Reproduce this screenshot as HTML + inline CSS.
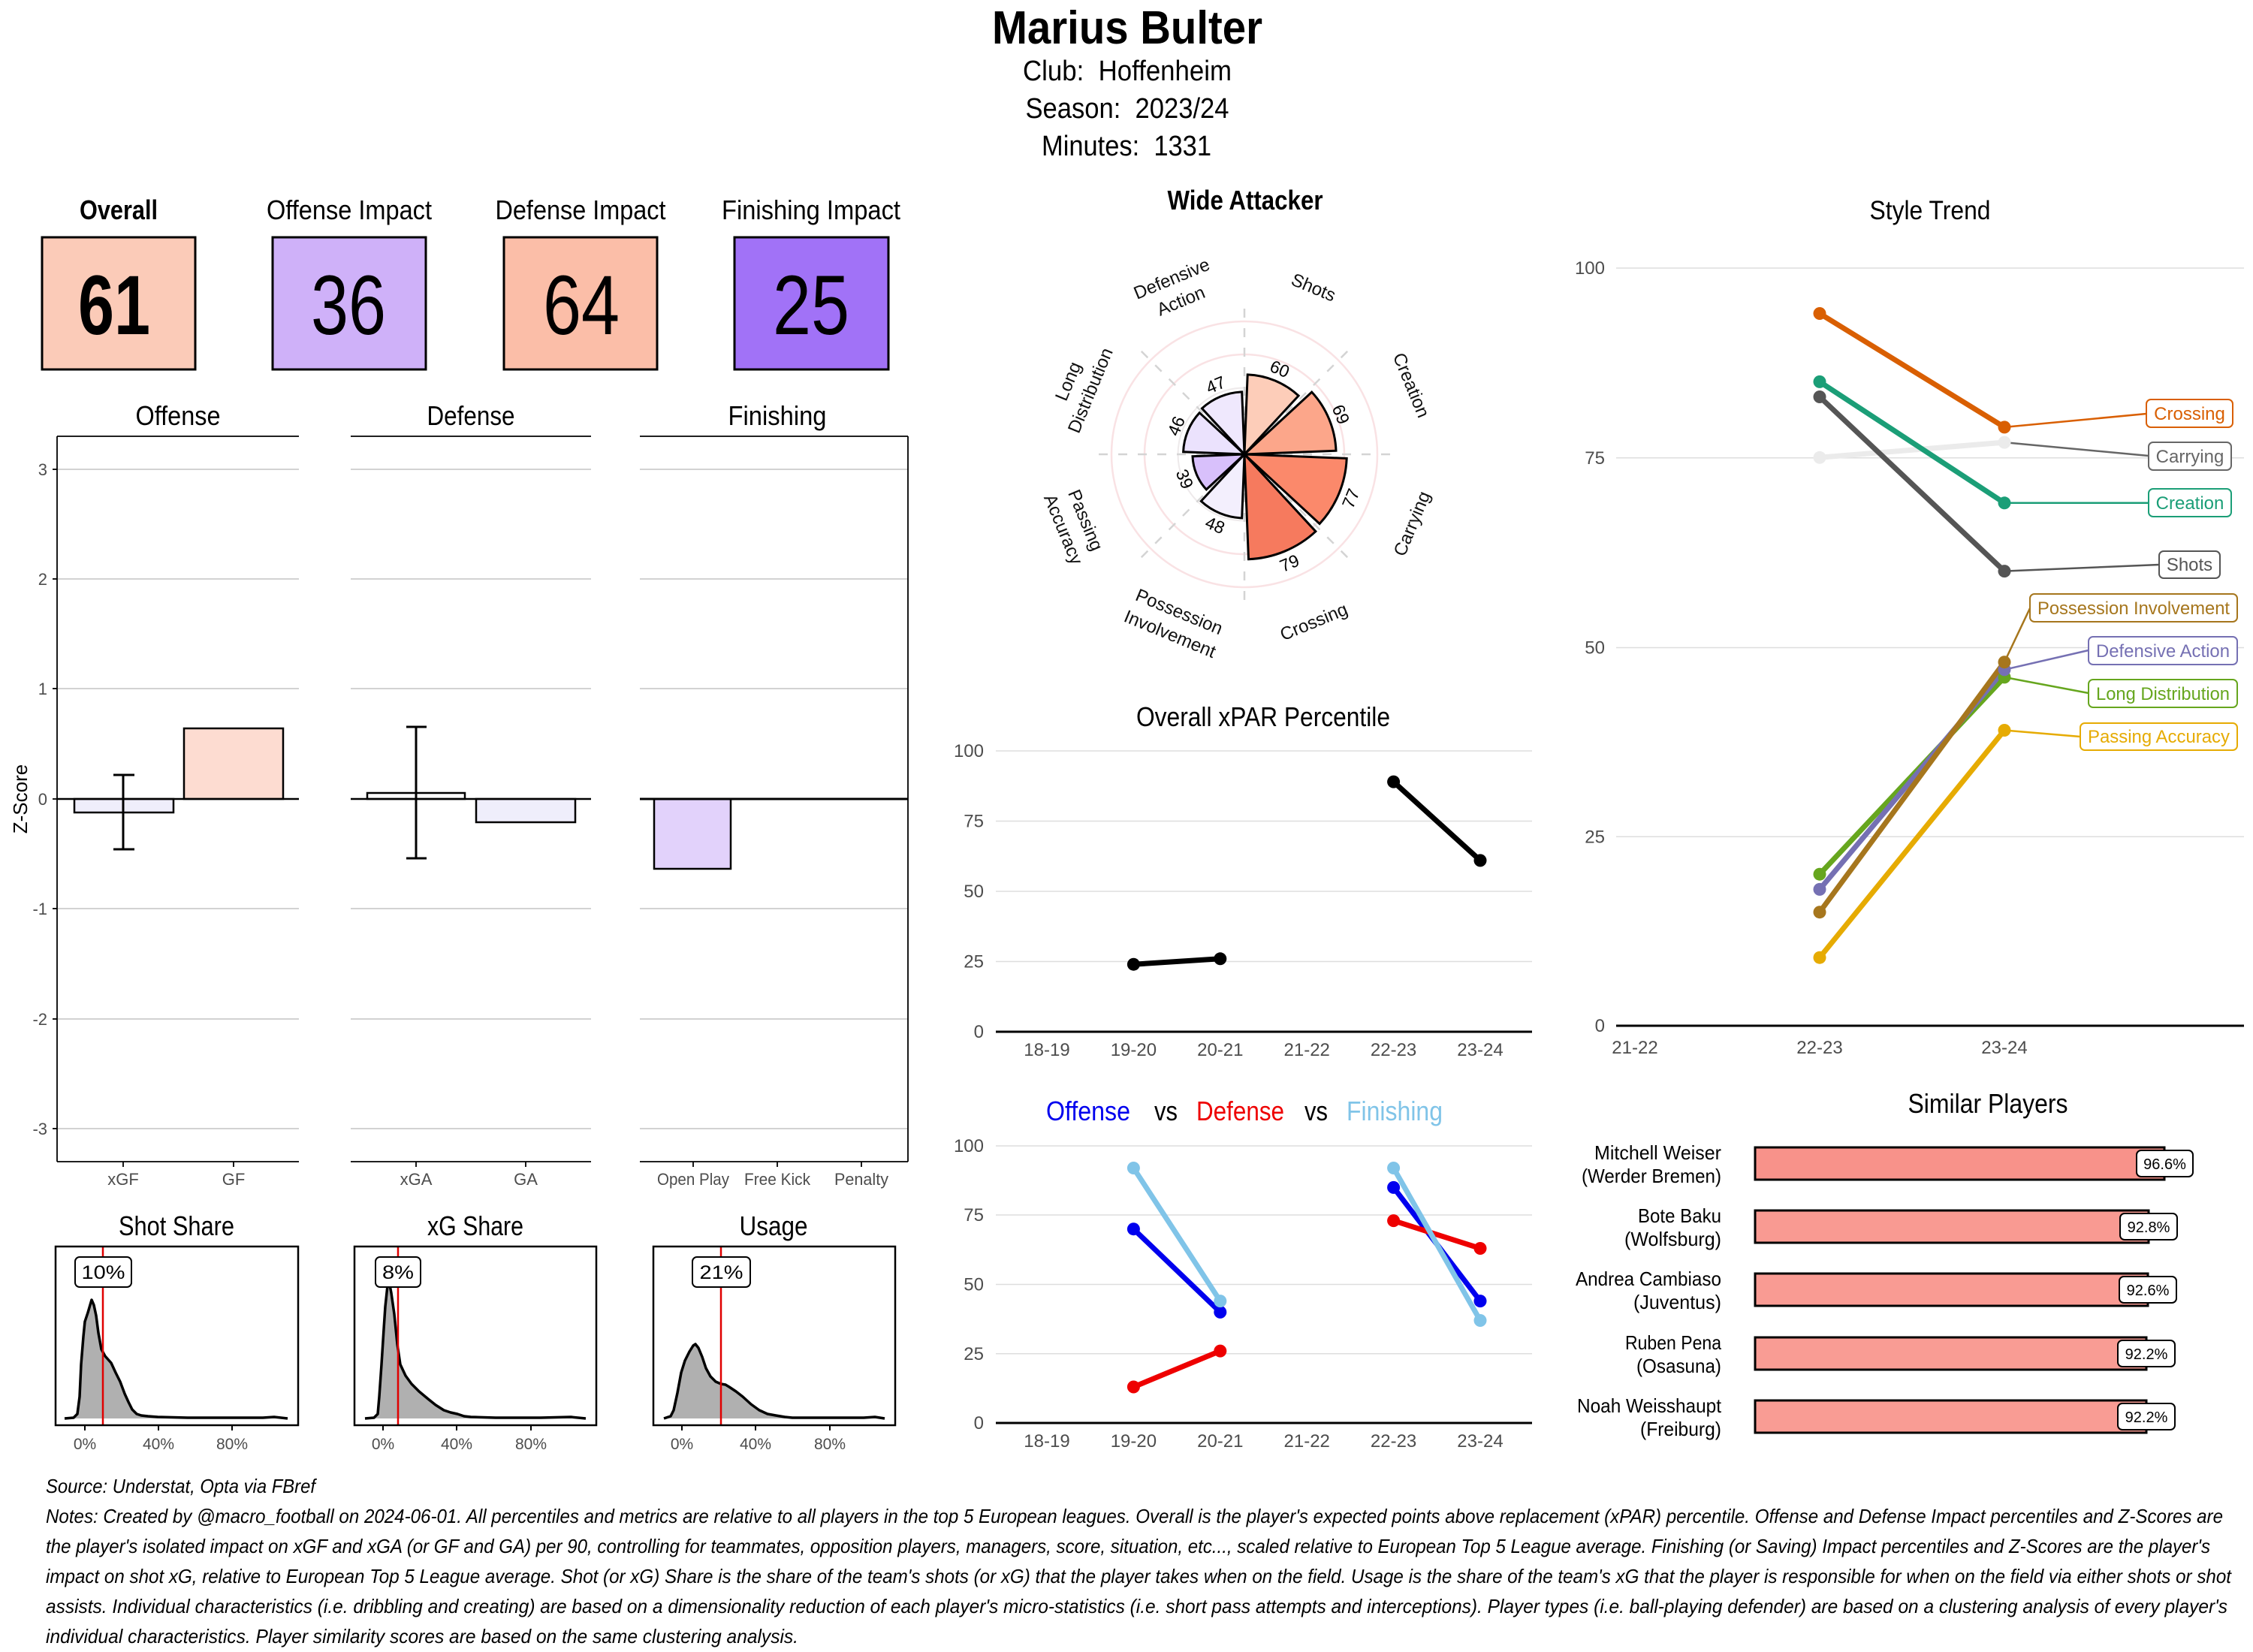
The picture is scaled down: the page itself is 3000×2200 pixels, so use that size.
<!DOCTYPE html>
<html>
<head>
<meta charset="utf-8">
<style>
html,body{margin:0;padding:0;background:#fff;}
svg{display:block;}
text{font-family:"Liberation Sans",Arial,sans-serif;}
</style>
</head>
<body>
<svg xmlns="http://www.w3.org/2000/svg" width="3000" height="2200" viewBox="0 0 3000 2200">
<rect x="0" y="0" width="3000" height="2200" fill="#fff"/>

<!-- ===== HEADER ===== -->
<g fill="#000" text-anchor="middle">
  <text x="1501" y="58" font-size="62" font-weight="bold" textLength="360" lengthAdjust="spacingAndGlyphs">Marius Bulter</text>
  <text x="1501" y="107" font-size="38" textLength="278" lengthAdjust="spacingAndGlyphs" xml:space="preserve">Club:  Hoffenheim</text>
  <text x="1501" y="157" font-size="38" textLength="271" lengthAdjust="spacingAndGlyphs" xml:space="preserve">Season:  2023/24</text>
  <text x="1500" y="207" font-size="38" textLength="226" lengthAdjust="spacingAndGlyphs" xml:space="preserve">Minutes:  1331</text>
</g>

<!-- ===== SCORE BOXES ===== -->
<g text-anchor="middle" fill="#000">
  <text x="158" y="292" font-size="36" font-weight="bold" textLength="104" lengthAdjust="spacingAndGlyphs">Overall</text>
  <text x="465" y="292" font-size="36" textLength="220" lengthAdjust="spacingAndGlyphs">Offense Impact</text>
  <text x="773" y="292" font-size="36" textLength="227" lengthAdjust="spacingAndGlyphs">Defense Impact</text>
  <text x="1080" y="292" font-size="36" textLength="238" lengthAdjust="spacingAndGlyphs">Finishing Impact</text>
</g>
<g stroke="#000" stroke-width="3">
  <rect x="56" y="316" width="204" height="176" fill="#fbcbb8"/>
  <rect x="363" y="316" width="204" height="176" fill="#cfb1f9"/>
  <rect x="671" y="316" width="204" height="176" fill="#fbbea8"/>
  <rect x="978" y="316" width="205" height="176" fill="#a172f7"/>
</g>
<g text-anchor="middle" fill="#000" font-size="112">
  <text x="152" y="445" font-weight="bold" textLength="96" lengthAdjust="spacingAndGlyphs">61</text>
  <text x="464" y="445" textLength="100" lengthAdjust="spacingAndGlyphs">36</text>
  <text x="774" y="445" textLength="102" lengthAdjust="spacingAndGlyphs">64</text>
  <text x="1080" y="445" textLength="102" lengthAdjust="spacingAndGlyphs">25</text>
</g>

<!-- ===== Z-SCORE BAR PANELS ===== -->
<g text-anchor="middle" fill="#000" font-size="36">
  <text x="237" y="566" textLength="113" lengthAdjust="spacingAndGlyphs">Offense</text>
  <text x="627" y="566" textLength="117" lengthAdjust="spacingAndGlyphs">Defense</text>
  <text x="1035" y="566" textLength="131" lengthAdjust="spacingAndGlyphs">Finishing</text>
</g>
<g stroke="#c4c4c4" stroke-width="1.5">
  <line x1="76" y1="625" x2="398" y2="625"/><line x1="76" y1="771" x2="398" y2="771"/><line x1="76" y1="917" x2="398" y2="917"/>
  <line x1="76" y1="1210" x2="398" y2="1210"/><line x1="76" y1="1357" x2="398" y2="1357"/><line x1="76" y1="1503" x2="398" y2="1503"/>
  <line x1="467" y1="625" x2="787" y2="625"/><line x1="467" y1="771" x2="787" y2="771"/><line x1="467" y1="917" x2="787" y2="917"/>
  <line x1="467" y1="1210" x2="787" y2="1210"/><line x1="467" y1="1357" x2="787" y2="1357"/><line x1="467" y1="1503" x2="787" y2="1503"/>
  <line x1="852" y1="625" x2="1209" y2="625"/><line x1="852" y1="771" x2="1209" y2="771"/><line x1="852" y1="917" x2="1209" y2="917"/>
  <line x1="852" y1="1210" x2="1209" y2="1210"/><line x1="852" y1="1357" x2="1209" y2="1357"/><line x1="852" y1="1503" x2="1209" y2="1503"/>
</g>
<g stroke="#000" stroke-width="2.5">
  <rect x="99" y="1064" width="132" height="18" fill="#efeefb"/>
  <rect x="245" y="970" width="132" height="94" fill="#fddcd1"/>
  <rect x="489" y="1056" width="130" height="8" fill="#ffffff"/>
  <rect x="634" y="1064" width="132" height="31" fill="#efeefb"/>
  <rect x="871" y="1064" width="102" height="93" fill="#e2d2fb"/>
</g>
<g stroke="#000" stroke-width="3" fill="none">
  <line x1="164" y1="1032" x2="164" y2="1131"/><line x1="151" y1="1032" x2="179" y2="1032"/><line x1="151" y1="1131" x2="179" y2="1131"/>
  <line x1="554" y1="968" x2="554" y2="1143"/><line x1="541" y1="968" x2="568" y2="968"/><line x1="541" y1="1143" x2="568" y2="1143"/>
</g>
<g stroke="#000" stroke-width="2.5">
  <line x1="76" y1="1064" x2="398" y2="1064"/>
  <line x1="467" y1="1064" x2="787" y2="1064"/>
  <line x1="852" y1="1064" x2="1209" y2="1064" stroke-width="3"/>
</g>
<g stroke="#000" stroke-width="1.8" fill="none">
  <line x1="76" y1="581" x2="398" y2="581"/><line x1="467" y1="581" x2="787" y2="581"/><line x1="852" y1="581" x2="1209" y2="581"/>
  <line x1="76" y1="1547" x2="398" y2="1547"/><line x1="467" y1="1547" x2="787" y2="1547"/><line x1="852" y1="1547" x2="1209" y2="1547"/>
  <line x1="76" y1="581" x2="76" y2="1547"/>
  <line x1="1209" y1="581" x2="1209" y2="1547"/>
  <line x1="70" y1="625" x2="76" y2="625"/><line x1="70" y1="771" x2="76" y2="771"/><line x1="70" y1="917" x2="76" y2="917"/>
  <line x1="70" y1="1064" x2="76" y2="1064"/><line x1="70" y1="1210" x2="76" y2="1210"/><line x1="70" y1="1357" x2="76" y2="1357"/><line x1="70" y1="1503" x2="76" y2="1503"/>
  <line x1="164" y1="1547" x2="164" y2="1554"/><line x1="311" y1="1547" x2="311" y2="1554"/>
  <line x1="554" y1="1547" x2="554" y2="1554"/><line x1="700" y1="1547" x2="700" y2="1554"/>
  <line x1="923" y1="1547" x2="923" y2="1554"/><line x1="1035" y1="1547" x2="1035" y2="1554"/><line x1="1147" y1="1547" x2="1147" y2="1554"/>
</g>
<g fill="#4d4d4d" font-size="22" text-anchor="end">
  <text x="63" y="633">3</text><text x="63" y="779">2</text><text x="63" y="925">1</text><text x="63" y="1072">0</text>
  <text x="63" y="1218">-1</text><text x="63" y="1365">-2</text><text x="63" y="1511">-3</text>
</g>
<text x="0" y="0" transform="translate(36,1064) rotate(-90)" text-anchor="middle" font-size="26" fill="#000">Z-Score</text>
<g fill="#4d4d4d" font-size="22" text-anchor="middle">
  <text x="164" y="1578">xGF</text><text x="311" y="1578">GF</text>
  <text x="554" y="1578">xGA</text><text x="700" y="1578">GA</text>
  <text x="923" y="1578" textLength="96" lengthAdjust="spacingAndGlyphs">Open Play</text>
  <text x="1035" y="1578" textLength="88" lengthAdjust="spacingAndGlyphs">Free Kick</text>
  <text x="1147" y="1578" textLength="72" lengthAdjust="spacingAndGlyphs">Penalty</text>
</g>

<!-- ===== DENSITY PANELS ===== -->
<g text-anchor="middle" fill="#000" font-size="36">
  <text x="235" y="1645" textLength="154" lengthAdjust="spacingAndGlyphs">Shot Share</text>
  <text x="633" y="1645" textLength="128" lengthAdjust="spacingAndGlyphs">xG Share</text>
  <text x="1030" y="1645" textLength="91" lengthAdjust="spacingAndGlyphs">Usage</text>
</g>
<path d="M86,1889 L98,1888 L103,1883 L106,1860 L108,1817 L111,1780 L113,1760 L117,1748 L122,1731 L125,1738 L128,1752 L131,1775 L135,1797 L140,1806 L148,1815 L154,1828 L160,1840 L166,1856 L171,1867 L176,1877 L182,1883 L188,1885 L197,1886 L210,1887 L250,1888 L300,1888 L350,1888 L365,1887 L383,1889 Z" fill="#b0b0b0" stroke="none"/>
<path d="M86,1889 L98,1888 L103,1883 L106,1860 L108,1817 L111,1780 L113,1760 L117,1748 L122,1731 L125,1738 L128,1752 L131,1775 L135,1797 L140,1806 L148,1815 L154,1828 L160,1840 L166,1856 L171,1867 L176,1877 L182,1883 L188,1885 L197,1886 L210,1887 L250,1888 L300,1888 L350,1888 L365,1887 L383,1889" fill="none" stroke="#000" stroke-width="3.5" stroke-linejoin="round"/>
<line x1="137" y1="1660" x2="137" y2="1898" stroke="#e00000" stroke-width="2.5"/>
<path d="M486,1889 L498,1888 L503,1883 L505,1860 L508,1817 L511,1770 L513,1740 L516,1712 L518,1706 L521,1722 L525,1750 L529,1790 L533,1817 L540,1832 L548,1843 L558,1853 L570,1863 L580,1871 L591,1878 L600,1881 L609,1883 L618,1886 L627,1887 L660,1888 L720,1888 L760,1887 L780,1889 Z" fill="#b0b0b0" stroke="none"/>
<path d="M486,1889 L498,1888 L503,1883 L505,1860 L508,1817 L511,1770 L513,1740 L516,1712 L518,1706 L521,1722 L525,1750 L529,1790 L533,1817 L540,1832 L548,1843 L558,1853 L570,1863 L580,1871 L591,1878 L600,1881 L609,1883 L618,1886 L627,1887 L660,1888 L720,1888 L760,1887 L780,1889" fill="none" stroke="#000" stroke-width="3.5" stroke-linejoin="round"/>
<line x1="530" y1="1660" x2="530" y2="1898" stroke="#e00000" stroke-width="2.5"/>
<path d="M884,1889 L893,1886 L897,1878 L902,1855 L907,1828 L912,1812 L918,1800 L923,1792 L926,1790 L930,1795 L935,1807 L940,1822 L946,1833 L953,1840 L960,1843 L966,1844 L971,1847 L980,1853 L989,1860 L1000,1870 L1011,1878 L1022,1883 L1033,1885 L1045,1887 L1055,1888 L1100,1888 L1150,1888 L1165,1887 L1178,1889 Z" fill="#b0b0b0" stroke="none"/>
<path d="M884,1889 L893,1886 L897,1878 L902,1855 L907,1828 L912,1812 L918,1800 L923,1792 L926,1790 L930,1795 L935,1807 L940,1822 L946,1833 L953,1840 L960,1843 L966,1844 L971,1847 L980,1853 L989,1860 L1000,1870 L1011,1878 L1022,1883 L1033,1885 L1045,1887 L1055,1888 L1100,1888 L1150,1888 L1165,1887 L1178,1889" fill="none" stroke="#000" stroke-width="3.5" stroke-linejoin="round"/>
<line x1="960" y1="1660" x2="960" y2="1898" stroke="#e00000" stroke-width="2.5"/>
<g fill="none" stroke="#000" stroke-width="2.5">
  <rect x="74" y="1660" width="323" height="238"/>
  <rect x="472" y="1660" width="322" height="238"/>
  <rect x="870" y="1660" width="322" height="238"/>
</g>
<g stroke="#000" stroke-width="2" fill="#fff">
  <rect x="100" y="1674" width="75" height="40" rx="6"/>
  <rect x="500" y="1674" width="60" height="40" rx="6"/>
  <rect x="922" y="1674" width="77" height="40" rx="6"/>
</g>
<g text-anchor="middle" fill="#000" font-size="25">
  <text x="137.5" y="1703" textLength="58" lengthAdjust="spacingAndGlyphs">10%</text>
  <text x="530" y="1703" textLength="42" lengthAdjust="spacingAndGlyphs">8%</text>
  <text x="960.5" y="1703" textLength="58" lengthAdjust="spacingAndGlyphs">21%</text>
</g>
<g stroke="#000" stroke-width="2">
  <line x1="113" y1="1898" x2="113" y2="1905"/><line x1="211" y1="1898" x2="211" y2="1905"/><line x1="309" y1="1898" x2="309" y2="1905"/>
  <line x1="510" y1="1898" x2="510" y2="1905"/><line x1="608" y1="1898" x2="608" y2="1905"/><line x1="707" y1="1898" x2="707" y2="1905"/>
  <line x1="908" y1="1898" x2="908" y2="1905"/><line x1="1006" y1="1898" x2="1006" y2="1905"/><line x1="1105" y1="1898" x2="1105" y2="1905"/>
</g>
<g fill="#4d4d4d" font-size="21" text-anchor="middle">
  <text x="113" y="1930">0%</text><text x="211" y="1930">40%</text><text x="309" y="1930">80%</text>
  <text x="510" y="1930">0%</text><text x="608" y="1930">40%</text><text x="707" y="1930">80%</text>
  <text x="908" y="1930">0%</text><text x="1006" y="1930">40%</text><text x="1105" y="1930">80%</text>
</g>

<!-- ===== RADAR ===== -->
<text x="1658" y="279" text-anchor="middle" font-size="36" font-weight="bold" fill="#000" textLength="207" lengthAdjust="spacingAndGlyphs">Wide Attacker</text>
<g fill="none">
  <circle cx="1657" cy="605" r="44" stroke="#eeeaeb" stroke-width="2"/>
  <circle cx="1657" cy="605" r="88.5" stroke="#eeeaeb" stroke-width="2"/>
  <circle cx="1657" cy="605" r="133" stroke="#f9e2e4" stroke-width="2.5"/>
  <circle cx="1657" cy="605" r="177" stroke="#f9e2e4" stroke-width="2.5"/>
</g>
<g stroke="#d4d4d4" stroke-width="2.5" stroke-dasharray="12 14">
  <line x1="1657" y1="605" x2="1657" y2="409"/>
  <line x1="1657" y1="605" x2="1795.6" y2="466.4"/>
  <line x1="1657" y1="605" x2="1853" y2="605"/>
  <line x1="1657" y1="605" x2="1795.6" y2="743.6"/>
  <line x1="1657" y1="605" x2="1657" y2="801"/>
  <line x1="1657" y1="605" x2="1518.4" y2="743.6"/>
  <line x1="1657" y1="605" x2="1461" y2="605"/>
  <line x1="1657" y1="605" x2="1518.4" y2="466.4"/>
</g>
<g stroke="#000" stroke-width="3" stroke-linejoin="miter">
  <path d="M1657,605 L1661.2,498.9 A106.2,106.2 0 0 1 1729.1,527.0 Z" fill="#fdcdb9"/>
  <path d="M1657,605 L1746.7,522.1 A122.1,122.1 0 0 1 1779.0,600.2 Z" fill="#fca68a"/>
  <path d="M1657,605 L1793.2,610.4 A136.3,136.3 0 0 1 1757.1,697.5 Z" fill="#fb896b"/>
  <path d="M1657,605 L1751.9,707.7 A139.8,139.8 0 0 1 1662.5,744.7 Z" fill="#f67a5e"/>
  <path d="M1657,605 L1653.7,689.9 A85,85 0 0 1 1599.3,667.4 Z" fill="#f3effd"/>
  <path d="M1657,605 L1606.3,651.9 A69,69 0 0 1 1588.0,607.7 Z" fill="#d8c0fb"/>
  <path d="M1657,605 L1575.6,601.8 A81.4,81.4 0 0 1 1597.2,549.7 Z" fill="#ebe2fd"/>
  <path d="M1657,605 L1600.5,543.9 A83.2,83.2 0 0 1 1653.7,521.9 Z" fill="#efe8fd"/>
</g>
<g fill="#000" font-size="23" text-anchor="middle" dominant-baseline="central">
  <text transform="translate(1704.1,491.2) rotate(22.5)">60</text>
  <text transform="translate(1785.5,551.8) rotate(67.5)">69</text>
  <text transform="translate(1798.6,663.7) rotate(-67.5)">77</text>
  <text transform="translate(1717,749.9) rotate(-22.5)">79</text>
  <text transform="translate(1618,699.2) rotate(22.5)">48</text>
  <text transform="translate(1577.5,637.9) rotate(67.5)">39</text>
  <text transform="translate(1566.1,567.3) rotate(-67.5)">46</text>
  <text transform="translate(1618.7,512.4) rotate(-22.5)">47</text>
</g>
<g fill="#111" font-size="24" text-anchor="middle">
  <text transform="translate(1748.8,383.3) rotate(22.5)" dominant-baseline="central">Shots</text>
  <text transform="translate(1878.7,513.2) rotate(67.5)" dominant-baseline="central">Creation</text>
  <text transform="translate(1880.6,697.6) rotate(-67.5)" dominant-baseline="central">Carrying</text>
  <text transform="translate(1749.6,828.6) rotate(-22.5)" dominant-baseline="central">Crossing</text>
  <g transform="translate(1564.4,828.6) rotate(22.5)">
    <text x="0" y="-7">Possession</text><text x="0" y="25">Involvement</text>
  </g>
  <g transform="translate(1431.6,698.4) rotate(67.5)">
    <text x="0" y="-7">Passing</text><text x="0" y="25">Accuracy</text>
  </g>
  <g transform="translate(1436.2,513.5) rotate(-67.5)">
    <text x="0" y="-7">Long</text><text x="0" y="25">Distribution</text>
  </g>
  <g transform="translate(1565.9,385.1) rotate(-22.5)">
    <text x="0" y="-7">Defensive</text><text x="0" y="25">Action</text>
  </g>
</g>

<!-- ===== xPAR PERCENTILE ===== -->
<text x="1682" y="967" text-anchor="middle" font-size="36" fill="#000" textLength="338" lengthAdjust="spacingAndGlyphs">Overall xPAR Percentile</text>
<g stroke="#dedede" stroke-width="1.5">
  <line x1="1326" y1="1000" x2="2040" y2="1000"/><line x1="1326" y1="1093.5" x2="2040" y2="1093.5"/>
  <line x1="1326" y1="1187" x2="2040" y2="1187"/><line x1="1326" y1="1280.5" x2="2040" y2="1280.5"/>
</g>
<line x1="1326" y1="1374" x2="2040" y2="1374" stroke="#000" stroke-width="3"/>
<g fill="#4d4d4d" font-size="24" text-anchor="end">
  <text x="1310" y="1008">100</text><text x="1310" y="1101.5">75</text><text x="1310" y="1195">50</text>
  <text x="1310" y="1288.5">25</text><text x="1310" y="1382">0</text>
</g>
<g fill="#4d4d4d" font-size="24" text-anchor="middle">
  <text x="1394" y="1406">18-19</text><text x="1509.4" y="1406">19-20</text><text x="1624.8" y="1406">20-21</text>
  <text x="1740.2" y="1406">21-22</text><text x="1855.6" y="1406">22-23</text><text x="1971" y="1406">23-24</text>
</g>
<g stroke="#000" stroke-width="7" stroke-linecap="round">
  <line x1="1509.4" y1="1284.2" x2="1624.8" y2="1276.8"/>
  <line x1="1855.6" y1="1041.1" x2="1971" y2="1145.9"/>
</g>
<g fill="#000">
  <circle cx="1509.4" cy="1284.2" r="8.5"/><circle cx="1624.8" cy="1276.8" r="8.5"/>
  <circle cx="1855.6" cy="1041.1" r="8.5"/><circle cx="1971" cy="1145.9" r="8.5"/>
</g>

<!-- ===== OFFENSE vs DEFENSE vs FINISHING ===== -->
<g font-size="36">
  <text x="1393" y="1492" fill="#0000ee" textLength="112" lengthAdjust="spacingAndGlyphs">Offense</text>
  <text x="1537" y="1492" fill="#000" textLength="31" lengthAdjust="spacingAndGlyphs">vs</text>
  <text x="1593" y="1492" fill="#ee0000" textLength="117" lengthAdjust="spacingAndGlyphs">Defense</text>
  <text x="1737" y="1492" fill="#000" textLength="31" lengthAdjust="spacingAndGlyphs">vs</text>
  <text x="1793" y="1492" fill="#80c4e8" textLength="128" lengthAdjust="spacingAndGlyphs">Finishing</text>
</g>
<g stroke="#dedede" stroke-width="1.5">
  <line x1="1326" y1="1526" x2="2040" y2="1526"/><line x1="1326" y1="1618" x2="2040" y2="1618"/>
  <line x1="1326" y1="1710.5" x2="2040" y2="1710.5"/><line x1="1326" y1="1802.75" x2="2040" y2="1802.75"/>
</g>
<line x1="1326" y1="1895" x2="2040" y2="1895" stroke="#000" stroke-width="3"/>
<g fill="#4d4d4d" font-size="24" text-anchor="end">
  <text x="1310" y="1534">100</text><text x="1310" y="1626">75</text><text x="1310" y="1718.5">50</text>
  <text x="1310" y="1810.75">25</text><text x="1310" y="1903">0</text>
</g>
<g fill="#4d4d4d" font-size="24" text-anchor="middle">
  <text x="1394" y="1927">18-19</text><text x="1509.4" y="1927">19-20</text><text x="1624.8" y="1927">20-21</text>
  <text x="1740.2" y="1927">21-22</text><text x="1855.6" y="1927">22-23</text><text x="1971" y="1927">23-24</text>
</g>
<g stroke-width="7" stroke-linecap="round">
  <line x1="1509.4" y1="1636.7" x2="1624.8" y2="1747.4" stroke="#0000ee"/>
  <line x1="1855.6" y1="1581.4" x2="1971" y2="1732.6" stroke="#0000ee"/>
  <line x1="1509.4" y1="1847" x2="1624.8" y2="1799.1" stroke="#ee0000"/>
  <line x1="1855.6" y1="1625.6" x2="1971" y2="1662.5" stroke="#ee0000"/>
  <line x1="1509.4" y1="1555.5" x2="1624.8" y2="1732.6" stroke="#80c4e8"/>
  <line x1="1855.6" y1="1555.5" x2="1971" y2="1758.5" stroke="#80c4e8"/>
</g>
<g>
  <circle cx="1509.4" cy="1636.7" r="8.5" fill="#0000ee"/><circle cx="1624.8" cy="1747.4" r="8.5" fill="#0000ee"/>
  <circle cx="1855.6" cy="1581.4" r="8.5" fill="#0000ee"/><circle cx="1971" cy="1732.6" r="8.5" fill="#0000ee"/>
  <circle cx="1509.4" cy="1847" r="8.5" fill="#ee0000"/><circle cx="1624.8" cy="1799.1" r="8.5" fill="#ee0000"/>
  <circle cx="1855.6" cy="1625.6" r="8.5" fill="#ee0000"/><circle cx="1971" cy="1662.5" r="8.5" fill="#ee0000"/>
  <circle cx="1509.4" cy="1555.5" r="8.5" fill="#80c4e8"/><circle cx="1624.8" cy="1732.6" r="8.5" fill="#80c4e8"/>
  <circle cx="1855.6" cy="1555.5" r="8.5" fill="#80c4e8"/><circle cx="1971" cy="1758.5" r="8.5" fill="#80c4e8"/>
</g>

<!-- ===== STYLE TREND ===== -->
<text x="2570" y="292" text-anchor="middle" font-size="35" fill="#000" textLength="161" lengthAdjust="spacingAndGlyphs">Style Trend</text>
<g stroke="#dedede" stroke-width="1.5">
  <line x1="2152" y1="357" x2="2988" y2="357"/><line x1="2152" y1="609.75" x2="2988" y2="609.75"/>
  <line x1="2152" y1="862.5" x2="2988" y2="862.5"/><line x1="2152" y1="1114.25" x2="2988" y2="1114.25"/>
</g>
<line x1="2152" y1="1366" x2="2988" y2="1366" stroke="#000" stroke-width="3"/>
<g fill="#4d4d4d" font-size="24" text-anchor="end">
  <text x="2137" y="365">100</text><text x="2137" y="617.75">75</text><text x="2137" y="870.5">50</text>
  <text x="2137" y="1122.25">25</text><text x="2137" y="1374">0</text>
</g>
<g fill="#4d4d4d" font-size="24" text-anchor="middle">
  <text x="2177" y="1403">21-22</text><text x="2423" y="1403">22-23</text><text x="2669" y="1403">23-24</text>
</g>
<g stroke-width="2.5" fill="none">
  <line x1="2669" y1="568.9" x2="2858" y2="551" stroke="#d95f02"/>
  <line x1="2669" y1="589.1" x2="2861" y2="607" stroke="#666666"/>
  <line x1="2669" y1="669.8" x2="2861" y2="669.8" stroke="#1b9e77"/>
  <line x1="2669" y1="760.6" x2="2875" y2="752" stroke="#555555"/>
  <line x1="2669" y1="881.7" x2="2703" y2="810" stroke="#a6761d"/>
  <line x1="2669" y1="891.8" x2="2781" y2="866" stroke="#7570b3"/>
  <line x1="2669" y1="901.9" x2="2781" y2="923" stroke="#66a61e"/>
  <line x1="2669" y1="972.5" x2="2770" y2="981" stroke="#e6ab02"/>
</g>
<g stroke-width="7" stroke-linecap="round">
  <line x1="2423" y1="609.3" x2="2669" y2="589.1" stroke="#ebebeb"/>
  <line x1="2423" y1="417.5" x2="2669" y2="568.9" stroke="#d95f02"/>
  <line x1="2423" y1="508.4" x2="2669" y2="669.8" stroke="#1b9e77"/>
  <line x1="2423" y1="528.5" x2="2669" y2="760.6" stroke="#555555"/>
  <line x1="2423" y1="1275.2" x2="2669" y2="972.5" stroke="#e6ab02"/>
  <line x1="2423" y1="1164.2" x2="2669" y2="901.9" stroke="#66a61e"/>
  <line x1="2423" y1="1184.4" x2="2669" y2="891.8" stroke="#7570b3"/>
  <line x1="2423" y1="1214.7" x2="2669" y2="881.7" stroke="#a6761d"/>
</g>
<g>
  <circle cx="2423" cy="609.3" r="8.5" fill="#ebebeb"/><circle cx="2669" cy="589.1" r="8.5" fill="#ebebeb"/>
  <circle cx="2423" cy="417.5" r="8.5" fill="#d95f02"/><circle cx="2669" cy="568.9" r="8.5" fill="#d95f02"/>
  <circle cx="2423" cy="508.4" r="8.5" fill="#1b9e77"/><circle cx="2669" cy="669.8" r="8.5" fill="#1b9e77"/>
  <circle cx="2423" cy="528.5" r="8.5" fill="#555555"/><circle cx="2669" cy="760.6" r="8.5" fill="#555555"/>
  <circle cx="2423" cy="1275.2" r="8.5" fill="#e6ab02"/><circle cx="2669" cy="972.5" r="8.5" fill="#e6ab02"/>
  <circle cx="2423" cy="1164.2" r="8.5" fill="#66a61e"/><circle cx="2669" cy="901.9" r="8.5" fill="#66a61e"/>
  <circle cx="2423" cy="1184.4" r="8.5" fill="#7570b3"/><circle cx="2669" cy="891.8" r="8.5" fill="#7570b3"/>
  <circle cx="2423" cy="1214.7" r="8.5" fill="#a6761d"/><circle cx="2669" cy="881.7" r="8.5" fill="#a6761d"/>
</g>
<g fill="#fff" stroke-width="2">
  <rect x="2858" y="532" width="115" height="37" rx="6" stroke="#d95f02"/>
  <rect x="2861" y="589" width="110" height="37" rx="6" stroke="#666666"/>
  <rect x="2861" y="651" width="110" height="37" rx="6" stroke="#1b9e77"/>
  <rect x="2875" y="734" width="81" height="36" rx="6" stroke="#555555"/>
  <rect x="2703" y="791" width="276" height="37" rx="6" stroke="#a6761d"/>
  <rect x="2781" y="848" width="198" height="37" rx="6" stroke="#7570b3"/>
  <rect x="2781" y="905" width="198" height="37" rx="6" stroke="#66a61e"/>
  <rect x="2770" y="963" width="209" height="36" rx="6" stroke="#e6ab02"/>
</g>
<g font-size="24" text-anchor="middle">
  <text x="2915.5" y="559" fill="#d95f02">Crossing</text>
  <text x="2916" y="616" fill="#666666">Carrying</text>
  <text x="2916" y="678" fill="#1b9e77">Creation</text>
  <text x="2915.5" y="760" fill="#555555">Shots</text>
  <text x="2841" y="818" fill="#a6761d" textLength="256" lengthAdjust="spacingAndGlyphs">Possession Involvement</text>
  <text x="2880" y="875" fill="#7570b3" textLength="178" lengthAdjust="spacingAndGlyphs">Defensive Action</text>
  <text x="2880" y="932" fill="#66a61e" textLength="178" lengthAdjust="spacingAndGlyphs">Long Distribution</text>
  <text x="2874.5" y="989" fill="#e6ab02" textLength="189" lengthAdjust="spacingAndGlyphs">Passing Accuracy</text>
</g>

<!-- ===== SIMILAR PLAYERS ===== -->
<text x="2647" y="1482" text-anchor="middle" font-size="36" fill="#000" textLength="213" lengthAdjust="spacingAndGlyphs">Similar Players</text>
<g stroke="#000" stroke-width="3">
  <rect x="2337" y="1528" width="545" height="43" fill="#f8928a"/>
  <rect x="2337" y="1612" width="524" height="43" fill="#f99a92"/>
  <rect x="2337" y="1696" width="523" height="43" fill="#f99b93"/>
  <rect x="2337" y="1781" width="521" height="43" fill="#f99c94"/>
  <rect x="2337" y="1865" width="521" height="43" fill="#f99c94"/>
</g>
<g fill="#fff" stroke="#000" stroke-width="2">
  <rect x="2845" y="1532" width="75" height="35" rx="6"/>
  <rect x="2823" y="1616" width="76" height="35" rx="6"/>
  <rect x="2822" y="1700" width="76" height="35" rx="6"/>
  <rect x="2820" y="1785" width="76" height="35" rx="6"/>
  <rect x="2820" y="1869" width="76" height="35" rx="6"/>
</g>
<g fill="#000" font-size="20" text-anchor="middle">
  <text x="2882.5" y="1557">96.6%</text>
  <text x="2861" y="1641">92.8%</text>
  <text x="2860" y="1725">92.6%</text>
  <text x="2858" y="1810">92.2%</text>
  <text x="2858" y="1894">92.2%</text>
</g>
<g fill="#000" font-size="26" text-anchor="end">
  <text x="2292" y="1544" textLength="169" lengthAdjust="spacingAndGlyphs">Mitchell Weiser</text>
  <text x="2292" y="1575" textLength="186" lengthAdjust="spacingAndGlyphs">(Werder Bremen)</text>
  <text x="2292" y="1628" textLength="111" lengthAdjust="spacingAndGlyphs">Bote Baku</text>
  <text x="2292" y="1659" textLength="129" lengthAdjust="spacingAndGlyphs">(Wolfsburg)</text>
  <text x="2292" y="1712" textLength="194" lengthAdjust="spacingAndGlyphs">Andrea Cambiaso</text>
  <text x="2292" y="1743" textLength="117" lengthAdjust="spacingAndGlyphs">(Juventus)</text>
  <text x="2292" y="1797" textLength="128" lengthAdjust="spacingAndGlyphs">Ruben Pena</text>
  <text x="2292" y="1828" textLength="113" lengthAdjust="spacingAndGlyphs">(Osasuna)</text>
  <text x="2292" y="1881" textLength="192" lengthAdjust="spacingAndGlyphs">Noah Weisshaupt</text>
  <text x="2292" y="1912" textLength="108" lengthAdjust="spacingAndGlyphs">(Freiburg)</text>
</g>

<!-- ===== NOTES ===== -->
<g fill="#000" font-size="26" font-style="italic">
  <text x="61" y="1988" textLength="359" lengthAdjust="spacingAndGlyphs">Source: Understat, Opta via FBref</text>
  <text x="61" y="2028" textLength="2899" lengthAdjust="spacingAndGlyphs">Notes: Created by @macro_football on 2024-06-01. All percentiles and metrics are relative to all players in the top 5 European leagues. Overall is the player's expected points above replacement (xPAR) percentile. Offense and Defense Impact percentiles and Z-Scores are</text>
  <text x="61" y="2068" textLength="2882" lengthAdjust="spacingAndGlyphs">the player's isolated impact on xGF and xGA (or GF and GA) per 90, controlling for teammates, opposition players, managers, score, situation, etc..., scaled relative to European Top 5 League average. Finishing (or Saving) Impact percentiles and Z-Scores are the player's</text>
  <text x="61" y="2108" textLength="2910" lengthAdjust="spacingAndGlyphs">impact on shot xG, relative to European Top 5 League average. Shot (or xG) Share is the share of the team's shots (or xG) that the player takes when on the field. Usage is the share of the team's xG that the player is responsible for when on the field via either shots or shot</text>
  <text x="61" y="2148" textLength="2905" lengthAdjust="spacingAndGlyphs">assists. Individual characteristics (i.e. dribbling and creating) are based on a dimensionality reduction of each player's micro-statistics (i.e. short pass attempts and interceptions). Player types (i.e. ball-playing defender) are based on a clustering analysis of every player's</text>
  <text x="61" y="2188" textLength="1002" lengthAdjust="spacingAndGlyphs">individual characteristics. Player similarity scores are based on the same clustering analysis.</text>
</g>
</svg>
</body>
</html>
